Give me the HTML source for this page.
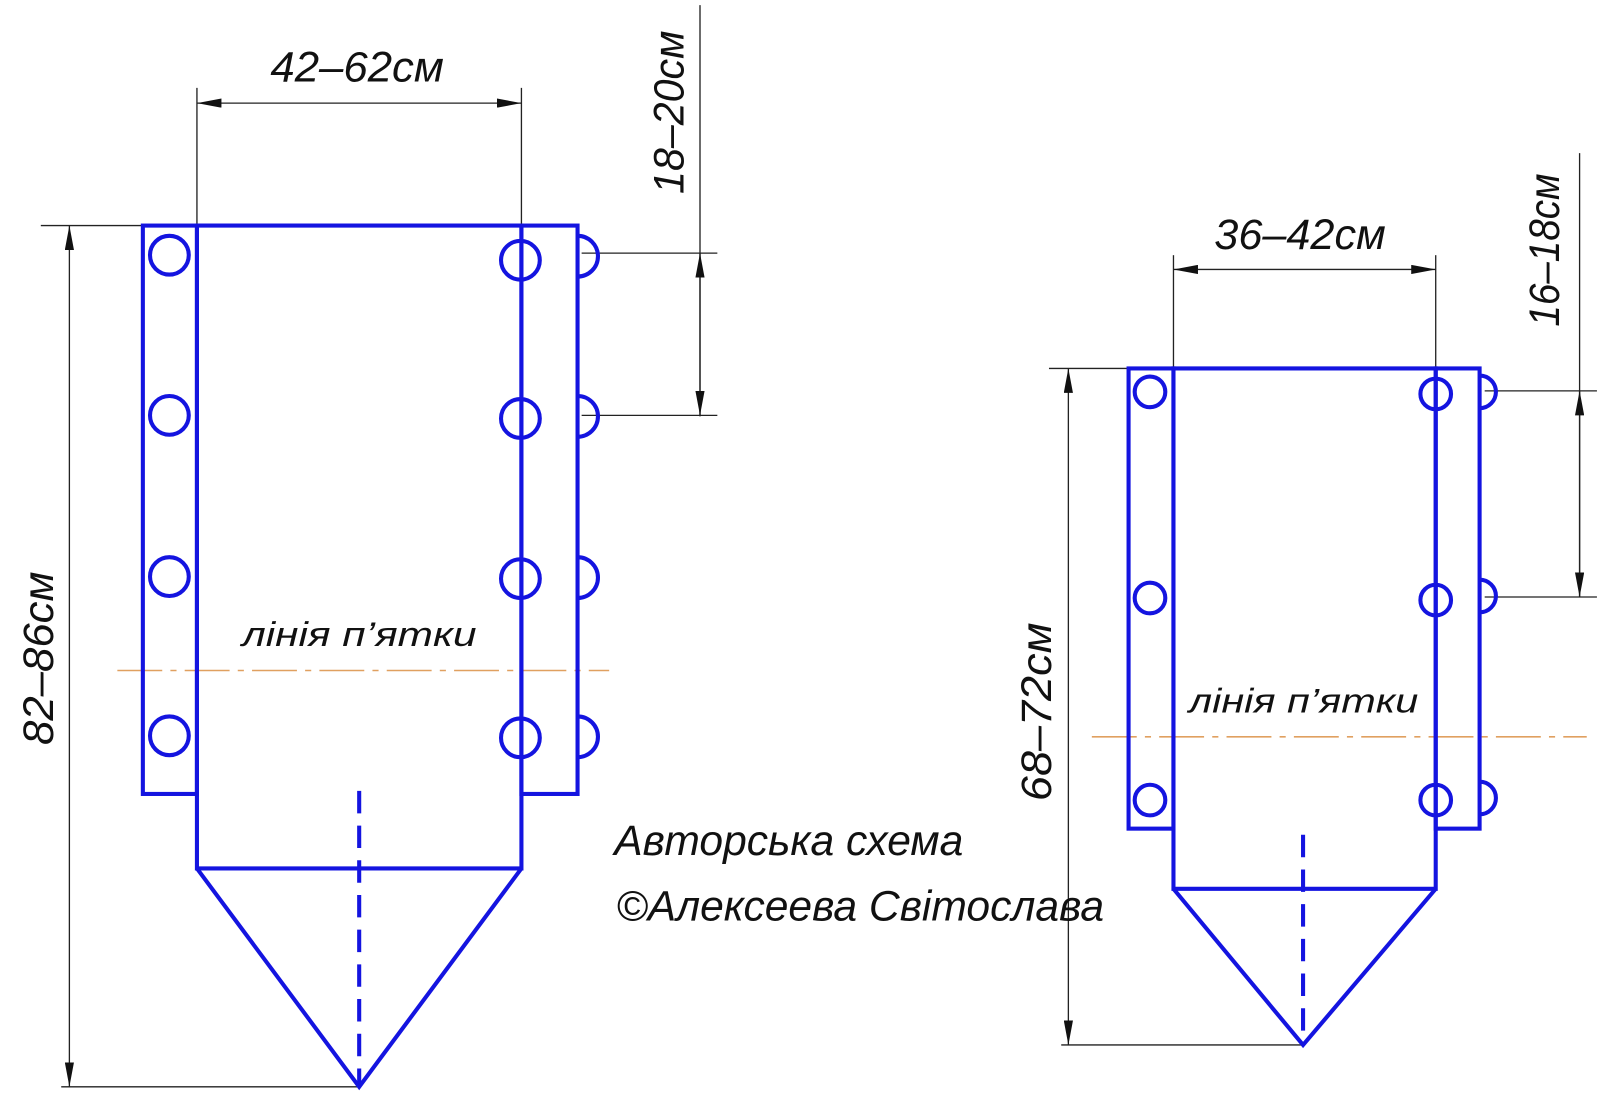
<!DOCTYPE html>
<html><head><meta charset="utf-8"><style>
html,body{margin:0;padding:0;background:#fff;}
svg{display:block;}
text{font-family:"Liberation Sans",sans-serif;font-style:italic;fill:#111;}
</style></head><body>
<svg width="1600" height="1093" viewBox="0 0 1568 1071" xmlns="http://www.w3.org/2000/svg">
<defs>
<marker id="a" viewBox="0 0 24 9" refX="24" refY="4.5" markerWidth="24" markerHeight="9" markerUnits="userSpaceOnUse" orient="auto-start-reverse"><path d="M0,0 L24,4.5 L0,9 Z" fill="#111"/></marker>
</defs>
<rect width="1568" height="1071" fill="#fff"/>
<g stroke="#222" stroke-width="1.3" fill="none">
<line x1="193" y1="86" x2="193" y2="221"/>
<line x1="511" y1="86" x2="511" y2="221"/>
<line x1="193" y1="101" x2="511" y2="101" marker-start="url(#a)" marker-end="url(#a)"/>
<line x1="686" y1="5" x2="686" y2="408"/>
<line x1="570" y1="248" x2="703" y2="248"/>
<line x1="570" y1="407" x2="703" y2="407"/>
<line x1="686" y1="248" x2="686" y2="407" marker-start="url(#a)" marker-end="url(#a)"/>
<line x1="40" y1="221" x2="140" y2="221"/>
<line x1="60" y1="1065" x2="352" y2="1065"/>
<line x1="68" y1="221" x2="68" y2="1065" marker-start="url(#a)" marker-end="url(#a)"/>
<line x1="1150" y1="250" x2="1150" y2="361"/>
<line x1="1407" y1="250" x2="1407" y2="361"/>
<line x1="1150" y1="264" x2="1407" y2="264" marker-start="url(#a)" marker-end="url(#a)"/>
<line x1="1548" y1="150" x2="1548" y2="585"/>
<line x1="1455" y1="383" x2="1565" y2="383"/>
<line x1="1455" y1="585" x2="1565" y2="585"/>
<line x1="1548" y1="383" x2="1548" y2="585" marker-start="url(#a)" marker-end="url(#a)"/>
<line x1="1028" y1="361" x2="1106" y2="361"/>
<line x1="1040" y1="1024" x2="1277" y2="1024"/>
<line x1="1047" y1="361" x2="1047" y2="1024" marker-start="url(#a)" marker-end="url(#a)"/>
</g>
<g stroke="#e0a060" stroke-width="1.5" stroke-dasharray="44,8,6,8">
<line x1="115" y1="657" x2="597" y2="657"/>
<line x1="1070" y1="722" x2="1555" y2="722"/>
</g>
<g stroke="#1414e0" stroke-width="4" fill="none">
<rect x="140" y="221" width="53" height="557"/>
<rect x="511" y="221" width="55" height="557"/>
<path d="M193,221 H511 V851 H193 Z"/>
<path d="M193,851 L352,1065 L511,851"/>
<line x1="352" y1="775" x2="352" y2="1065" stroke-dasharray="22,12"/>
<circle cx="166" cy="250" r="19"/><circle cx="166" cy="407" r="19"/><circle cx="166" cy="565" r="19"/><circle cx="166" cy="721" r="19"/>
<circle cx="510" cy="255" r="19"/><circle cx="510" cy="410" r="19"/><circle cx="510" cy="567" r="19"/><circle cx="510" cy="723" r="19"/>
<path d="M566,231 A20,20 0 0 1 566,271"/><path d="M566,388 A20,20 0 0 1 566,428"/><path d="M566,546 A20,20 0 0 1 566,586"/><path d="M566,702 A20,20 0 0 1 566,742"/>
<rect x="1106" y="361" width="44" height="451"/>
<rect x="1407" y="361" width="43" height="451"/>
<path d="M1150,361 H1407 V871 H1150 Z"/>
<path d="M1150,871 L1277,1024 L1407,871"/>
<line x1="1277" y1="818" x2="1277" y2="1024" stroke-dasharray="22,12"/>
<circle cx="1127" cy="384" r="15"/><circle cx="1127" cy="586" r="15"/><circle cx="1127" cy="784" r="15"/>
<circle cx="1407" cy="386" r="15"/><circle cx="1407" cy="588" r="15"/><circle cx="1407" cy="784" r="15"/>
<path d="M1450,368 A16,16 0 0 1 1450,400"/><path d="M1450,568 A16,16 0 0 1 1450,600"/><path d="M1450,766 A16,16 0 0 1 1450,798"/>
</g>
<text x="265" y="80" font-size="42" textLength="170" lengthAdjust="spacingAndGlyphs">42–62см</text>
<text transform="translate(670,190) rotate(-90)" font-size="42" textLength="160" lengthAdjust="spacingAndGlyphs">18–20см</text>
<text transform="translate(52,730) rotate(-90)" font-size="42" textLength="170" lengthAdjust="spacingAndGlyphs">82–86см</text>
<text x="237" y="633" font-size="34" textLength="230" lengthAdjust="spacingAndGlyphs">лінія п’ятки</text>
<text x="1190" y="244" font-size="42" textLength="168" lengthAdjust="spacingAndGlyphs">36–42см</text>
<text transform="translate(1528,320) rotate(-90)" font-size="42" textLength="150" lengthAdjust="spacingAndGlyphs">16–18см</text>
<text transform="translate(1030,785) rotate(-90)" font-size="42" textLength="175" lengthAdjust="spacingAndGlyphs">68–72см</text>
<text x="1165" y="698" font-size="34" textLength="225" lengthAdjust="spacingAndGlyphs">лінія п’ятки</text>
<text x="602" y="838" font-size="42" textLength="342" lengthAdjust="spacingAndGlyphs">Авторська схема</text>
<text x="604" y="902" font-size="42" textLength="478" lengthAdjust="spacingAndGlyphs">©Алексеева Світослава</text>
</svg>
</body></html>
